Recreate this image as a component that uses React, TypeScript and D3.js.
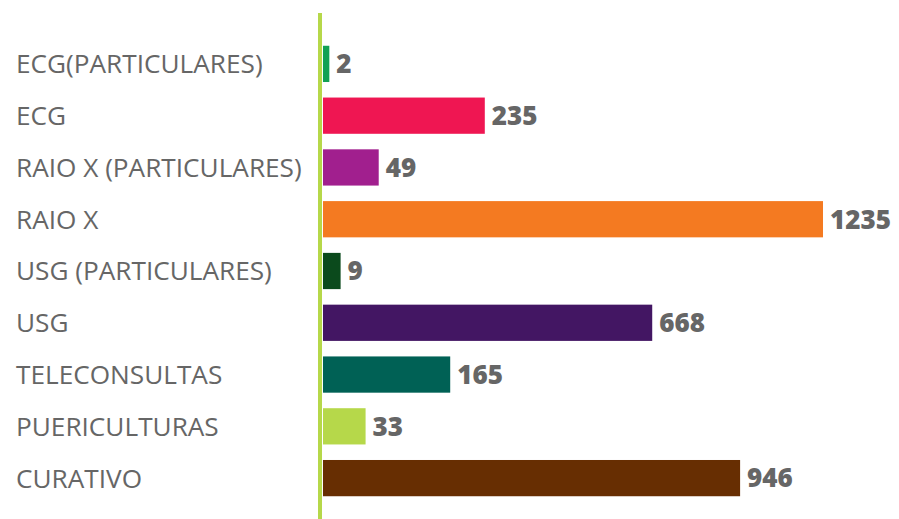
import { useRef, useEffect } from 'react'
import * as d3 from 'd3'

const categories = [
  'ECG(PARTICULARES)',
  'ECG',
  'RAIO X (PARTICULARES)',
  'RAIO X',
  'USG (PARTICULARES)',
  'USG',
  'TELECONSULTAS',
  'PUERICULTURAS',
  'CURATIVO',
]
const values = [2, 235, 49, 1235, 9, 668, 165, 33, 946]
const colors = [
  '#12a154', '#ef1652', '#a11f8e', '#f47a21', '#0b4a1c',
  '#431663', '#006155', '#b6d84a', '#672e02',
]

export default function App() {
  const svgRef = useRef<SVGSVGElement>(null)
  const width = 899
  const height = 519

  useEffect(() => {
    if (!svgRef.current) return
    const svg = d3.select(svgRef.current)
    svg.selectAll('*').remove()

    const axisX = 320
    const x0 = 323

    // bar lengths in the original are not linear, a power scale fits them best
    const x = d3.scalePow()
      .exponent(0.68)
      .domain([0, d3.max(values) || 1])
      .range([x0, 823])

    const y = d3.scaleBand<string>()
      .domain(categories)
      .range([38, 504])
      .paddingInner(0.3)
      .paddingOuter(0.15)

    const rows = categories.map((c, i) => ({ name: c, value: values[i], color: colors[i] }))

    svg.selectAll('.bar')
      .data(rows)
      .join('rect')
      .attr('class', 'bar')
      .attr('x', x0)
      .attr('y', d => y(d.name)!)
      .attr('width', d => Math.max(3, x(d.value) - x0))
      .attr('height', y.bandwidth())
      .attr('fill', d => d.color)

    // category labels
    svg.selectAll('.cat')
      .data(rows)
      .join('text')
      .attr('class', 'cat')
      .attr('x', 16)
      .attr('y', d => y(d.name)! + y.bandwidth() / 2)
      .attr('dy', '0.36em')
      .attr('fill', '#666666')
      .attr('font-size', '26.2px')
      .attr('font-family', "'Open Sans', sans-serif")
      .text(d => d.name)

    // value labels
    svg.selectAll('.value')
      .data(rows)
      .join('text')
      .attr('class', 'value')
      .attr('x', d => Math.max(x0 + 3, x(d.value)) + 7)
      .attr('y', d => y(d.name)! + y.bandwidth() / 2)
      .attr('dy', '0.36em')
      .attr('fill', '#666666')
      .attr('font-size', '26px')
      .attr('font-weight', 800)
      .attr('font-family', "'Open Sans', sans-serif")
      .text(d => d.value)

    // baseline
    svg.append('line')
      .attr('x1', axisX)
      .attr('x2', axisX)
      .attr('y1', 13)
      .attr('y2', height)
      .attr('stroke', '#b6d84a')
      .attr('stroke-width', 4)
  }, [])

  return (
    <svg
      ref={svgRef}
      width={width}
      height={height}
      style={{ position: 'absolute', left: 0, top: 0, background: '#fff' }}
    />
  )
}
